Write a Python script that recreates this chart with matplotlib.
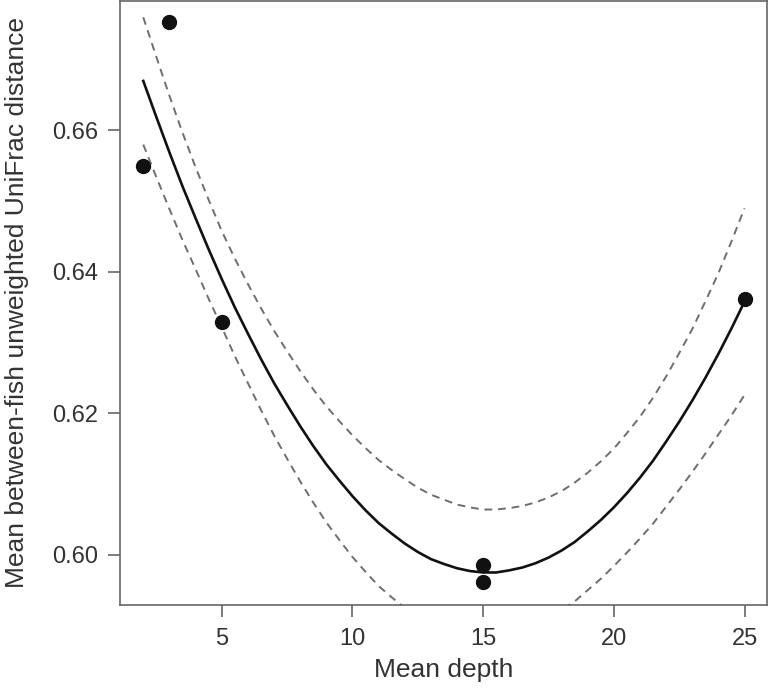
import numpy as np
import matplotlib
matplotlib.use('Agg')
import matplotlib.pyplot as plt

plt.rcParams['font.family'] = ['Liberation Sans', 'DejaVu Sans']

# observed points
depth = [2, 3, 5, 15, 15, 25]
unifrac = [0.6549, 0.6754, 0.6329, 0.5986, 0.5961, 0.6361]

# fitted curve and its confidence band, read every half unit of depth 2..25
curve_x = [2.0, 2.5, 3.0, 3.5, 4.0, 4.5, 5.0, 5.5, 6.0, 6.5, 7.0, 7.5,
           8.0, 8.5, 9.0, 9.5, 10.0, 10.5, 11.0, 11.5, 12.0, 12.5, 13.0,
           13.5, 14.0, 14.5, 15.0, 15.5, 16.0, 16.5, 17.0, 17.5, 18.0,
           18.5, 19.0, 19.5, 20.0, 20.5, 21.0, 21.5, 22.0, 22.5, 23.0,
           23.5, 24.0, 24.5, 25.0]
fit = [0.6670, 0.6619, 0.6569, 0.6521, 0.6476, 0.6432, 0.6390, 0.6350,
       0.6313, 0.6277, 0.6243, 0.6212, 0.6182, 0.6154, 0.6128, 0.6105,
       0.6083, 0.6063, 0.6045, 0.6030, 0.6016, 0.6004, 0.5994, 0.5987,
       0.5981, 0.5977, 0.5975, 0.5975, 0.5978, 0.5982, 0.5988, 0.5996,
       0.6006, 0.6018, 0.6033, 0.6049, 0.6067, 0.6087, 0.6109, 0.6133,
       0.6160, 0.6188, 0.6218, 0.6250, 0.6284, 0.6320, 0.6358]
upper = [0.6760, 0.6704, 0.6649, 0.6597, 0.6548, 0.6502, 0.6458, 0.6419,
         0.6383, 0.6349, 0.6317, 0.6288, 0.6260, 0.6234, 0.6210, 0.6189,
         0.6169, 0.6151, 0.6134, 0.6120, 0.6107, 0.6095, 0.6085, 0.6078,
         0.6071, 0.6067, 0.6064, 0.6064, 0.6066, 0.6069, 0.6074, 0.6081,
         0.6090, 0.6102, 0.6116, 0.6132, 0.6150, 0.6172, 0.6195, 0.6222,
         0.6252, 0.6285, 0.6319, 0.6358, 0.6398, 0.6443, 0.6490]
lower = [0.6580, 0.6534, 0.6489, 0.6445, 0.6404, 0.6362, 0.6322, 0.6281,
         0.6243, 0.6205, 0.6169, 0.6136, 0.6104, 0.6074, 0.6046, 0.6021,
         0.5997, 0.5976, 0.5956, 0.5940, 0.5925, 0.5913, 0.5903, 0.5896,
         0.5891, 0.5887, 0.5886, 0.5886, 0.5890, 0.5895, 0.5902, 0.5911,
         0.5922, 0.5934, 0.5950, 0.5966, 0.5984, 0.6003, 0.6023, 0.6044,
         0.6068, 0.6092, 0.6117, 0.6143, 0.6170, 0.6197, 0.6226]

xticks = [5, 10, 15, 20, 25]
yticks = [0.60, 0.62, 0.64, 0.66]

fig = plt.figure(figsize=(7.7, 6.89), dpi=100)
ax = fig.add_axes([120/770, 84/689, 647/770, 604/689])

dash_col = '#6e6e6e'
ax.plot(curve_x, upper, color=dash_col, lw=1.4, dashes=(4, 3))
ax.plot(curve_x, lower, color=dash_col, lw=1.4, dashes=(4, 3))
ax.plot(curve_x, fit, color='#111111', lw=1.9)
ax.plot(depth, unifrac, 'o', color='#111111', ms=10, mec='#111111')

ax.set_xlim(1.11, 25.86)
ax.set_ylim(0.5929, 0.6783)
ax.set_xticks(xticks)
ax.set_xticklabels([str(t) for t in xticks])
ax.set_yticks(yticks)
ax.set_yticklabels(['%.2f' % t for t in yticks])

for s in ax.spines.values():
    s.set_color('#666666')
    s.set_linewidth(1.2)
ax.tick_params(axis='both', direction='out', length=8.5, width=1.2,
               color='#666666', labelsize=17, labelcolor='#333333')
ax.tick_params(axis='x', pad=8)
ax.tick_params(axis='y', pad=7)

ax.set_xlabel('Mean depth', fontsize=19, color='#333333', labelpad=6)
ax.set_ylabel('Mean between-fish unweighted UniFrac distance', fontsize=19,
              color='#333333', labelpad=17)

fig.savefig('out.png', dpi=100)
